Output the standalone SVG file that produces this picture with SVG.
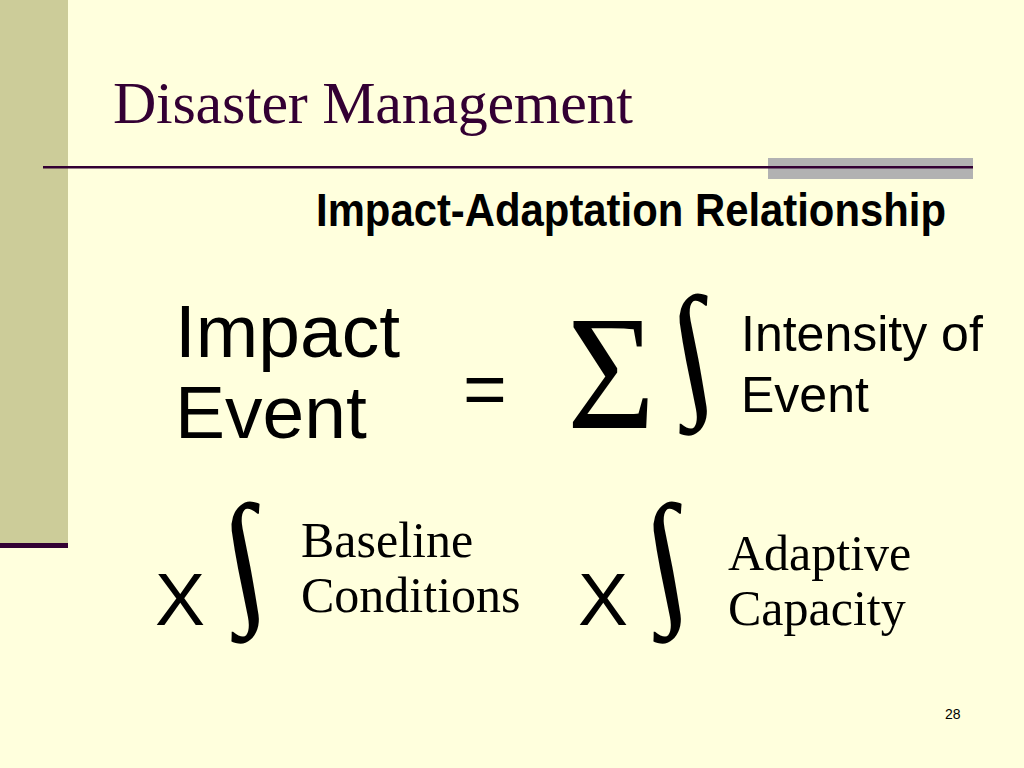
<svg xmlns="http://www.w3.org/2000/svg" width="1024" height="768" viewBox="0 0 1024 768">
<style>
.sans{font-family:"Liberation Sans",Arial,sans-serif;fill:#000}
.serif{font-family:"Liberation Serif","Times New Roman",serif;fill:#000}
.int{font-family:"Liberation Serif","DejaVu Serif",serif;fill:#000;font-size:145px}
</style>
<rect width="1024" height="768" fill="#FFFFDD"/>
<g id="decor">
<rect x="0" y="0" width="68" height="543" fill="#CCCC99"/>
<rect x="0" y="543" width="68" height="5" fill="#330033"/>
<rect x="768" y="158" width="205" height="21" fill="#B2B2B2"/>
<rect x="43" y="166" width="930" height="2.5" fill="#330033"/>
</g>
<g id="title">
<text x="113" y="123" font-family="Liberation Sans, Times New Roman, serif" font-size="60" fill="#330033" textLength="520" style="font-family:'Liberation Serif','Times New Roman',serif">Disaster Management</text>
</g>
<g id="subtitle">
<text x="316" y="226" font-family="Liberation Sans, Arial, sans-serif" font-weight="bold" font-size="46" textLength="630" lengthAdjust="spacingAndGlyphs" fill="#000">Impact-Adaptation Relationship</text>
</g>
<g id="lhs">
<text class="sans" x="175" y="357" font-size="75">Impact</text>
<text class="sans" x="175" y="438" font-size="75">Event</text>
</g>
<g id="equals">
<text class="sans" x="463" y="414" font-size="75">=</text>
</g>
<g id="sum-integral">
<text class="serif" x="567" y="428" font-size="163" transform="translate(567 0) scale(0.93 1) translate(-567 0)">Σ</text>
<text class="int" x="680" y="397" transform="translate(680 397) skewX(11) translate(-680 -397)">∫</text>
</g>
<g id="intensity">
<text class="sans" x="741" y="351" font-size="50">Intensity of</text>
<text class="sans" x="741" y="412" font-size="50">Event</text>
</g>
<g id="baseline-term">
<text class="sans" x="155" y="625" font-size="75">X</text>
<text class="int" x="232" y="605" transform="translate(232 605) skewX(11) translate(-232 -605)">∫</text>
<text class="serif" x="301" y="557" font-size="50">Baseline</text>
<text class="serif" x="301" y="612" font-size="50">Conditions</text>
</g>
<g id="adaptive-term">
<text class="sans" x="578" y="625" font-size="75">X</text>
<text class="int" x="654" y="605" transform="translate(654 605) skewX(11) translate(-654 -605)">∫</text>
<text class="serif" x="728" y="570" font-size="50">Adaptive</text>
<text class="serif" x="728" y="625" font-size="50">Capacity</text>
</g>
<g id="page">
<text class="sans" x="945" y="719" font-size="14">28</text>
</g>
</svg>
